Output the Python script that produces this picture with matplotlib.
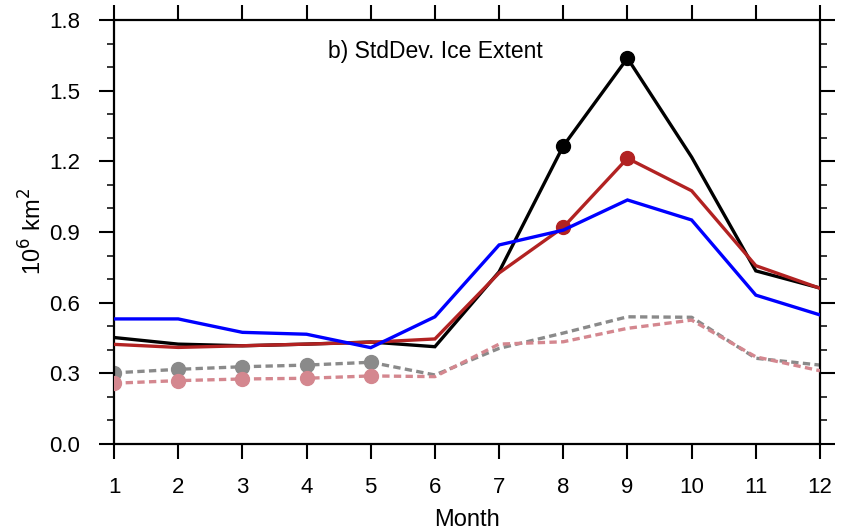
import matplotlib
matplotlib.use("Agg")
import matplotlib.pyplot as plt
from matplotlib.ticker import MultipleLocator, FormatStrFormatter

months = list(range(1, 13))
black_vals = [0.452, 0.424, 0.417, 0.424, 0.433, 0.413, 0.731, 1.265, 1.638, 1.218, 0.735, 0.662]
red_vals = [0.423, 0.410, 0.417, 0.424, 0.432, 0.446, 0.726, 0.920, 1.213, 1.075, 0.757, 0.661]
blue_vals = [0.531, 0.531, 0.474, 0.466, 0.409, 0.540, 0.845, 0.908, 1.036, 0.951, 0.632, 0.548]
gray_vals = [0.302, 0.317, 0.328, 0.335, 0.347, 0.293, 0.406, 0.471, 0.540, 0.538, 0.364, 0.335]
pink_vals = [0.258, 0.269, 0.276, 0.279, 0.289, 0.286, 0.424, 0.434, 0.491, 0.526, 0.370, 0.311]

black_marks = [8, 9]
red_marks = [8, 9]
gray_marks = [1, 2, 3, 4, 5]
pink_marks = [1, 2, 3, 4, 5]

plt.rcParams['font.family'] = ['Liberation Sans', 'DejaVu Sans']

fig = plt.figure(figsize=(8.46, 5.30), dpi=100)
ax = fig.add_axes([114/846, 86/530, (820-114)/846, (444-20)/530])

lw = 2.4
ms = 10
dash = (0, (2.2, 1.3))

def series(vals, marks, color, ls, z):
    ax.plot(months, vals, color=color, lw=lw, linestyle=ls, zorder=z, solid_joinstyle='miter')
    mx = [m for m in marks]
    my = [vals[m - 1] for m in marks]
    ax.plot(mx, my, linestyle='none', marker='o', ms=ms, color=color, zorder=z)

series(gray_vals, gray_marks, '#8a8a8a', dash, 2)
series(pink_vals, pink_marks, '#d4878f', dash, 3)
series(black_vals, black_marks, 'black', '-', 4)
series(red_vals, red_marks, '#b22222', '-', 5)
series(blue_vals, [], '#0000ff', '-', 6)

ax.set_xlim(1, 12)
ax.set_ylim(0, 1.8)
ax.set_xticks(months)
ax.yaxis.set_major_locator(MultipleLocator(0.3))
ax.yaxis.set_minor_locator(MultipleLocator(0.1))
ax.yaxis.set_major_formatter(FormatStrFormatter('%.1f'))
ax.tick_params(axis='both', which='major', direction='out', length=10.5, width=1.5,
               labelsize=16, top=True, right=True)
ax.tick_params(axis='x', which='major', pad=13)
ax.tick_params(axis='y', which='major', pad=14)
ax.tick_params(axis='y', which='minor', direction='out', length=5, width=1.1, left=True, right=True)
for s in ax.spines.values():
    s.set_linewidth(1.6)

ax.set_xlabel('Month', fontsize=17, labelpad=8)
ax.set_ylabel(r'10$^{6}$ km$^{2}$', fontsize=17, labelpad=2)
ax.text(0.455, 0.925, 'b) StdDev. Ice Extent', transform=ax.transAxes, ha='center', va='center', fontsize=16.5)

fig.savefig('out.png', dpi=100)
